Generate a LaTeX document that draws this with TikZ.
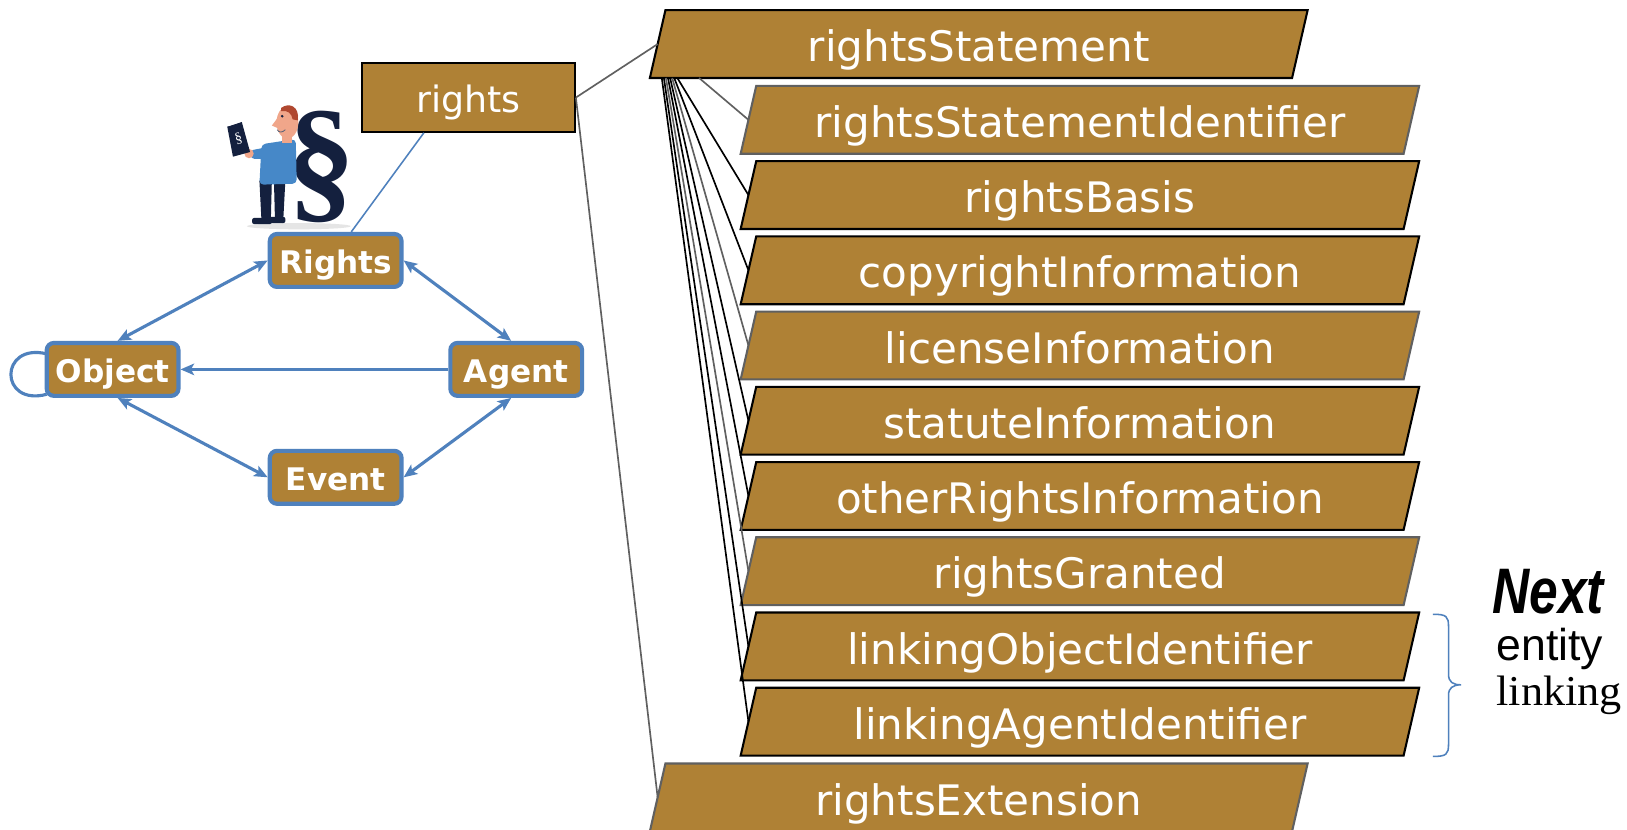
\documentclass[tikz,border=0pt]{standalone}
\usepackage{fontspec}
\setmainfont{DejaVu Sans}
\newfontfamily\notefont{Liberation Sans}
\newfontfamily\notefontnarrow[FakeStretch=0.8]{Liberation Sans}
\newfontfamily\serifnote[FakeStretch=1.04]{Liberation Serif}
\newfontfamily\glyphfont{Liberation Serif}
\usetikzlibrary{arrows.meta,calc}

\definecolor{boxbrown}{RGB}{175,129,53}
\definecolor{linkblue}{RGB}{79,129,189}
\definecolor{edgegray}{RGB}{96,96,96}
\definecolor{inknavy}{RGB}{20,32,62}
\definecolor{skin}{RGB}{240,166,138}
\definecolor{hair}{RGB}{176,72,48}
\definecolor{shirt}{RGB}{70,136,200}

\pgfdeclarelayer{back}
\pgfsetlayers{back,main}

\tikzset{
  prop/.style={rectangle, inner sep=0pt, minimum height=65pt, text=white,
    font=\fontsize{40.5}{44}\selectfont, text height=34pt, text depth=0pt},
  childprop/.style={prop, minimum width=638.5pt},
  parentprop/.style={prop, minimum width=618.5pt},
  entity/.style={rectangle, rounded corners=7pt, draw=linkblue, line width=4pt,
    fill=boxbrown, text=white, font=\fontsize{30}{34}\selectfont\bfseries,
    minimum width=127pt, minimum height=51pt, inner sep=0pt,
    text height=25pt, text depth=0pt},
  tip/.tip={Stealth[length=13pt,width=11pt,inset=3pt]},
  rel/.style={draw=linkblue, line width=3pt, tip-tip},
  relone/.style={draw=linkblue, line width=3pt, -tip},
  fan/.style={line width=1.6pt},
  note/.style={anchor=base west, inner sep=0pt},
}

% slanted frame behind a property node: #1 node, #2 border colour
\newcommand\slantframe[2]{%
  \begin{pgfonlayer}{back}
    \draw[draw=#2, line width=2pt, fill=boxbrown, line join=miter]
      ($(#1.north west)+(7.5,0)$) -- ($(#1.north east)+(7.5,0)$)
      -- ($(#1.south east)+(-7.5,0)$) -- ($(#1.south west)+(-7.5,0)$) -- cycle;
  \end{pgfonlayer}}

\begin{document}
\begin{tikzpicture}[x=1pt,y=-1pt]
\useasboundingbox (0,0) rectangle (1568,799);
\begin{pgfonlayer}{back}
  \fill[white] (0,0) rectangle (1568,799);
\end{pgfonlayer}

% ---------- property list ----------
\node[parentprop] (rs)   at (943.25,42.5)  {rightsStatement};
\node[childprop]  (rsid) at (1040.75,115.5) {rightsStatementIdentifier};
\node[childprop]  (rb)   at (1040.75,188)   {rightsBasis};
\node[childprop]  (ci)   at (1040.75,260.5) {copyrightInformation};
\node[childprop]  (li)   at (1040.75,333)   {licenseInformation};
\node[childprop]  (si)   at (1040.75,405.5) {statuteInformation};
\node[childprop]  (ori)  at (1040.75,478)   {otherRightsInformation};
\node[childprop]  (rg)   at (1040.75,550.5) {rightsGranted};
\node[childprop]  (loi)  at (1040.75,623)   {linkingObjectIdentifier};
\node[childprop]  (lai)  at (1040.75,695.5) {linkingAgentIdentifier};
\node[parentprop] (rext) at (943.25,768.5)  {rightsExtension};

\slantframe{rs}{black}
\slantframe{rsid}{edgegray}
\slantframe{rb}{black}
\slantframe{ci}{black}
\slantframe{li}{edgegray}
\slantframe{si}{black}
\slantframe{ori}{black}
\slantframe{rg}{edgegray}
\slantframe{loi}{black}
\slantframe{lai}{black}
\slantframe{rext}{edgegray}

% connectors fanning out of rightsStatement
\draw[fan, edgegray] ($(rs.south west)+(40,0)$) -- (rsid.west);
\draw[fan, black]    ($(rs.south west)+(19,0)$) -- (rb.west);
\draw[fan, black]    ($(rs.south west)+(16,0)$) -- (ci.west);
\draw[fan, edgegray] ($(rs.south west)+(14,0)$) -- (li.west);
\draw[fan, black]    ($(rs.south west)+(12,0)$) -- (si.west);
\draw[fan, black]    ($(rs.south west)+(10,0)$) -- (ori.west);
\draw[fan, edgegray] ($(rs.south west)+(8,0)$)  -- (rg.west);
\draw[fan, black]    ($(rs.south west)+(6,0)$)  -- (loi.west);
\draw[fan, black]    ($(rs.south west)+(4,0)$)  -- (lai.west);

% ---------- rights container ----------
\node[rectangle, draw=black, line width=2pt, fill=boxbrown, text=white,
  minimum width=205pt, minimum height=66pt, inner sep=0pt,
  font=\fontsize{35}{38}\selectfont, text height=28pt, text depth=0pt]
  (rights) at (451.5,94) {rights};
\draw[fan, edgegray] (rights.east) -- (rs.west);
\draw[fan, edgegray] (rights.east) -- (rext.west);

% ---------- entity model ----------
\node[entity] (Rgt) at (323.5,251) {Rights};
\node[entity] (Obj) at (108.5,356) {Object};
\node[entity] (Agt) at (497.5,356) {Agent};
\node[entity] (Evt) at (323.5,460) {Event};

\draw[linkblue, line width=1.5pt] ($(rights.south)+(-43,0)$) -- ($(Rgt.north)+(15,0)$);

\draw[rel] (Rgt.west) -- (Obj.80);
\draw[rel] (Rgt.east) -- (Agt.100);
\draw[relone] (Agt.west) -- (Obj.east);
\draw[rel] (Obj.280) -- (Evt.west);
\draw[rel] (Agt.260) -- (Evt.east);
\draw[linkblue, line width=3pt] ($(Obj.west)+(2,-15)$)
  .. controls ($(Obj.west)+(-44,-26)$) and ($(Obj.west)+(-44,36)$) .. ($(Obj.west)+(2,24)$);

% ---------- reader with paragraph sign ----------
\fill[black!10] (288,218) ellipse (50 and 3);
\node[font=\glyphfont\bfseries\fontsize{134}{138}\selectfont, text=inknavy, inner sep=0pt]
  (para) at (310,161) {§};
% legs and shoes
\fill[inknavy] (250,174) -- (262,174) -- (261,213) -- (252,213) -- cycle;
\fill[inknavy] (264,174) -- (275,174) -- (273,212) -- (265,212) -- cycle;
\fill[inknavy, rounded corners=2pt] (243,210) rectangle (262,216);
\fill[inknavy, rounded corners=2pt] (259,209) rectangle (275,215);
% shirt and arm
\fill[shirt, rounded corners=4pt] (252,139) -- (285,134) -- (286,177) -- (250,178) -- cycle;
\fill[shirt, rounded corners=3pt] (262,141) -- (241,145) -- (242,153) -- (264,153) -- cycle;
\fill[skin] (240,148) circle (4.5);
% book
\fill[inknavy] (219,122) -- (233,117.5) -- (241,146.5) -- (224.5,151) -- cycle;
\draw[white, line width=1.2pt] (220,121) -- (233.5,116.5);
\node[text=white, font=\glyphfont\fontsize{14}{14}\selectfont, inner sep=0pt, rotate=15]
  (bookmark) at (230,134) {§};
% head
\fill[skin] (272,129) rectangle (281,138);
\fill[skin] (277,118) ellipse (10.5 and 15.5);
\fill[skin] (268,113) -- (262,121) -- (269,124) -- cycle;
\fill[hair] (271,104) .. controls (279,98) and (289,103) .. (287,116)
  -- (282,115) .. controls (281,109) and (277,106) .. (271,107) -- cycle;
\fill[inknavy] (272,112) circle (1.4);
\draw[inknavy!70, line width=0.8pt] (267,125) .. controls (269,128) and (272,128) .. (275,125);

% ---------- brace and note ----------
\coordinate (bt) at (1381,592);
\coordinate (bb) at (1381,729);
\draw[linkblue, line width=1.5pt] (bt) .. controls (1394,592) and (1396,594) .. (1396,604)
  -- (1396,650) .. controls (1396,657) and (1400,660) .. (1408,660)
  .. controls (1400,660) and (1396,663) .. (1396,670)
  -- (1396,717) .. controls (1396,727) and (1394,729) .. (bb);

\node[note, font=\notefontnarrow\fontsize{62}{64}\selectfont\bfseries\itshape]
  (nxt) at (1438,591) {Next};
\node[note, font=\notefont\fontsize{43}{45}\selectfont] (ent) at (1442,637) {entity};
\node[note, font=\serifnote\fontsize{41}{43}\selectfont] (lnk) at (1442,680) {linking};
\end{tikzpicture}
\end{document}
